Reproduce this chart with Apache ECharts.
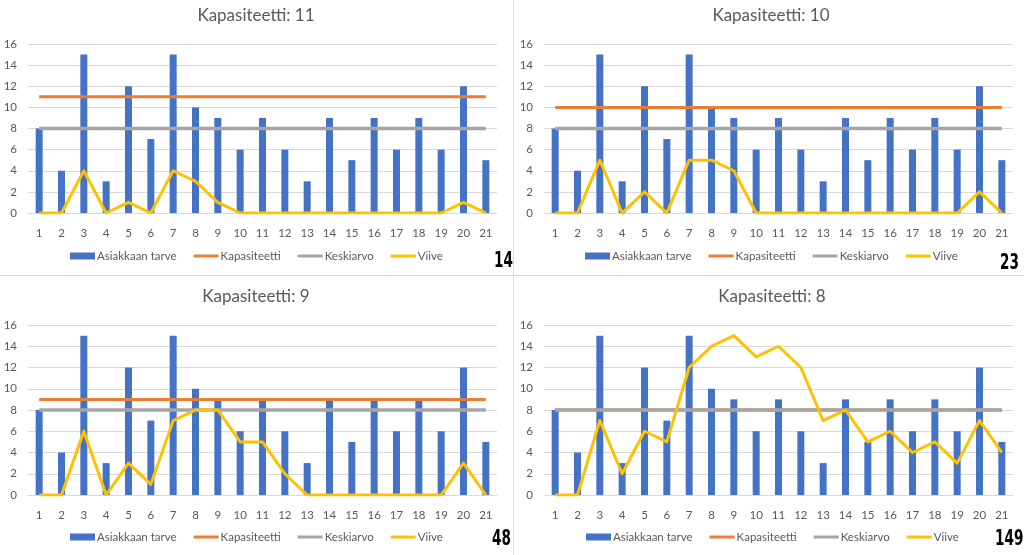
<!DOCTYPE html>
<html>
<head>
<meta charset="utf-8">
<script src="https://cdn.jsdelivr.net/npm/echarts@6/dist/echarts.min.js"></script>
<style>
html,body{margin:0;padding:0;background:#fff;}
#c{width:1024px;height:555px;}
</style>
</head>
<body>
<div id="c"></div>
<script>
const categories = ['1','2','3','4','5','6','7','8','9','10','11','12','13','14','15','16','17','18','19','20','21'];
const demand = [8,4,15,3,12,7,15,10,9,6,9,6,3,9,5,9,6,9,6,12,5];
const average = [8,8,8,8,8,8,8,8,8,8,8,8,8,8,8,8,8,8,8,8,8];
const capacity11 = [11,11,11,11,11,11,11,11,11,11,11,11,11,11,11,11,11,11,11,11,11];
const capacity10 = [10,10,10,10,10,10,10,10,10,10,10,10,10,10,10,10,10,10,10,10,10];
const capacity9 = [9,9,9,9,9,9,9,9,9,9,9,9,9,9,9,9,9,9,9,9,9];
const capacity8 = [8,8,8,8,8,8,8,8,8,8,8,8,8,8,8,8,8,8,8,8,8];
const delay11 = [0,0,4,0,1,0,4,3,1,0,0,0,0,0,0,0,0,0,0,1,0];
const delay10 = [0,0,5,0,2,0,5,5,4,0,0,0,0,0,0,0,0,0,0,2,0];
const delay9 = [0,0,6,0,3,1,7,8,8,5,5,2,0,0,0,0,0,0,0,3,0];
const delay8 = [0,0,7,2,6,5,12,14,15,13,14,12,7,8,5,6,4,5,3,7,4];
const titles = ['Kapasiteetti: 11','Kapasiteetti: 10','Kapasiteetti: 9','Kapasiteetti: 8'];
const totals = ['14','23','48','149'];
const seriesNames = ['Asiakkaan tarve','Kapasiteetti','Keskiarvo','Viive'];
const yTicks = {min:0, max:16, interval:2};

const capacities = [capacity11, capacity10, capacity9, capacity8];
const delays = [delay11, delay10, delay9, delay8];

const FONT = 'Lato, "Liberation Sans", sans-serif';
const TXT = '#595959';
const GRIDC = '#d9d9d9';
const LINE_ICON = 'path://M0,0L25,0L25,0ZM0,2H25V5H0ZM0,7L25,7L25,7Z';
const panels = [
  {left:28, top:44, cx:256, ty:7, ly:250, tot:[494,251]},
  {left:544, top:44, cx:771, ty:7, ly:250, tot:[1000,253]},
  {left:28, top:325, cx:256, ty:288, ly:531, tot:[492,529]},
  {left:544, top:325, cx:772, ty:288, ly:531, tot:[995,529]}
];
const W = 469, H = [169,169,170,170];

const legendData = seriesNames.map((n,k)=> k===0 ? {name:n, icon:'rect'} : {name:n, icon:LINE_ICON});

const option = {
  animation:false,
  backgroundColor:'#fff',
  title: panels.map((p,i)=>({text:titles[i], left:p.cx, top:p.ty, textAlign:'center', padding:0,
    textStyle:{fontFamily:FONT, fontSize:17, fontWeight:'normal', color:TXT}})),
  legend: panels.map((p,i)=>({data:legendData, top:p.ly,
    itemWidth:25, itemHeight:7, itemGap:17, padding:0,
    left: p.cx - 186,
    textStyle:{fontFamily:FONT, fontSize:11.5, color:TXT, padding:[0,0,0,-3]}})),
  grid: panels.map((p,i)=>({left:p.left, top:p.top, width:W, height:H[i], containLabel:false})),
  xAxis: panels.map((p,i)=>({type:'category', gridIndex:i, data:categories, boundaryGap:true,
    axisTick:{show:false}, axisLine:{lineStyle:{color:GRIDC, width:1}},
    axisLabel:{color:TXT, fontFamily:FONT, fontSize:11.5, margin:14}})),
  yAxis: panels.map((p,i)=>({type:'value', gridIndex:i, min:yTicks.min, max:yTicks.max, interval:yTicks.interval,
    axisLine:{show:false}, axisTick:{show:false},
    splitLine:{lineStyle:{color:GRIDC, width:1}},
    axisLabel:{color:TXT, fontFamily:FONT, fontSize:11.5, margin:11}})),
  series: [],
  graphic: [
    {type:'line', shape:{x1:513.5,y1:0,x2:513.5,y2:555}, style:{stroke:GRIDC, lineWidth:1}},
    {type:'line', shape:{x1:0,y1:275.5,x2:1024,y2:275.5}, style:{stroke:GRIDC, lineWidth:1}}
  ].concat(panels.map((p,i)=>({type:'text', x:p.tot[0], y:p.tot[1], scaleX:0.72,
    style:{text:totals[i], font:'bold 21px "Liberation Sans Narrow", "DejaVu Sans Condensed", sans-serif', fill:'#000'}})))
};
panels.forEach((p,i)=>{
  option.series.push({name:seriesNames[0], type:'bar', xAxisIndex:i, yAxisIndex:i, data:demand, barWidth:7,
    itemStyle:{color:'#4472C4'}, z:2});
  option.series.push({name:seriesNames[1], type:'line', xAxisIndex:i, yAxisIndex:i, data:capacities[i], symbol:'none',
    lineStyle:{color:'#ED7D31', width:3}, itemStyle:{color:'#ED7D31'}, z:3});
  option.series.push({name:seriesNames[2], type:'line', xAxisIndex:i, yAxisIndex:i, data:average, symbol:'none',
    lineStyle:{color:'#A5A5A5', width:3.4}, itemStyle:{color:'#A5A5A5'}, z:4});
  option.series.push({name:seriesNames[3], type:'line', xAxisIndex:i, yAxisIndex:i, data:delays[i], symbol:'none',
    lineStyle:{color:'#FFC000', width:3, join:'round'}, itemStyle:{color:'#FFC000'}, z:5});
});
const chart = echarts.init(document.getElementById('c'), null, {renderer:'canvas'});
chart.setOption(option);
</script>
</body>
</html>
